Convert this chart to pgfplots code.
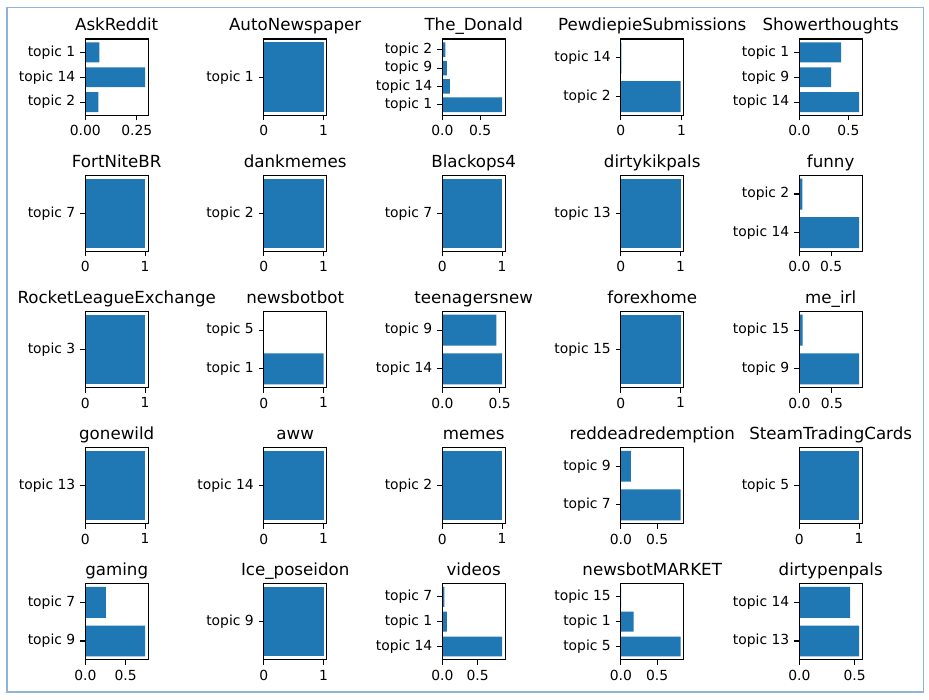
\documentclass[border=0pt]{standalone}
\usepackage{fontspec}
\setmainfont{DejaVu Sans}
\usepackage{pgfplots}
\pgfplotsset{compat=1.18}
\definecolor{c0}{HTML}{1F77B4}
\definecolor{frame}{RGB}{143,180,220}
\pgfplotsset{
  sub/.style={xbar, scale only axis, width=45.2pt, height=55.1pt, anchor=north west,
    xmin=0, axis on top, tick align=outside, xtick pos=bottom, ytick pos=left,
    major tick length=3.5pt,
    axis line style={line width=0.8pt,black},
    tick style={black,line width=0.8pt},
    xtick style={black,line width=0.8pt},
    ytick style={black,line width=0.8pt},
    tick label style={font=\fontsize{10}{12}\selectfont},
    yticklabel style={inner sep=0pt, anchor=east, xshift=-3.5pt},
    xticklabel style={inner sep=0pt, anchor=north, yshift=-3.5pt},
    /pgf/number format/assume math mode=true,
    every axis title shift=0pt,
    title style={font=\fontsize{12}{14}\selectfont, at={(0.5,1)}, anchor=base, yshift=5.8pt, inner sep=0pt},
    bar width=0.8, bar shift=0pt},
  n1/.style={ymin=-0.44,ymax=0.44,ytick={0}},
  n2/.style={ymin=-0.49,ymax=1.49,ytick={0,1}},
  n3/.style={ymin=-0.54,ymax=2.54,ytick={0,1,2}},
  n4/.style={ymin=-0.59,ymax=3.59,ytick={0,1,2,3}},
  one/.style={xmax=1.05,xtick={0,1},xticklabels={0,1}},
  half/.style={xtick={0,0.5},xticklabels={0.0,0.5}},
}
\newcommand{\sub}[4]{%
  \begin{axis}[sub, at={({(85.3+178.5*#1)*0.72pt},{-(39+136.1*#2)*0.72pt})}, #3]
  \addplot[fill=c0, draw=none] coordinates {#4};
  \end{axis}}
\begin{document}
\begin{tikzpicture}
\useasboundingbox (0,0) rectangle (929*0.72pt,-699*0.72pt);
\draw[frame, line width=1.2pt] (7*0.72pt,-7.5*0.72pt) rectangle (923.5*0.72pt,-692*0.72pt);
% row 0
\sub{0}{0}{title={AskReddit}, n3, yticklabels={topic 2,topic 14,topic 1}, xmax=0.3045, xtick={0,0.25}, xticklabels={0.00,0.25}}{(0.064,0) (0.29,1) (0.068,2)}
\sub{1}{0}{title={AutoNewspaper}, n1, yticklabels={topic 1}, one}{(1,0)}
\sub{2}{0}{title={The\_Donald}, n4, yticklabels={topic 1,topic 14,topic 9,topic 2}, xmax=0.8295, half}{(0.79,0) (0.10,1) (0.062,2) (0.04,3)}
\sub{3}{0}{title={PewdiepieSubmissions}, n2, yticklabels={topic 2,topic 14}, xmax=1.034, xtick={0,1}, xticklabels={0,1}}{(0.985,0) (0.008,1)}
\sub{4}{0}{title={Showerthoughts}, n3, yticklabels={topic 14,topic 9,topic 1}, xmax=0.6405, half}{(0.61,0) (0.325,1) (0.426,2)}
% row 1
\sub{0}{1}{title={FortNiteBR}, n1, yticklabels={topic 7}, one}{(1,0)}
\sub{1}{1}{title={dankmemes}, n1, yticklabels={topic 2}, one}{(1,0)}
\sub{2}{1}{title={Blackops4}, n1, yticklabels={topic 7}, one}{(1,0)}
\sub{3}{1}{title={dirtykikpals}, n1, yticklabels={topic 13}, one}{(1,0)}
\sub{4}{1}{title={funny}, n2, yticklabels={topic 14,topic 2}, xmax=0.987, half}{(0.94,0) (0.05,1)}
% row 2
\sub{0}{2}{title={RocketLeagueExchange}, n1, yticklabels={topic 3}, one}{(1,0)}
\sub{1}{2}{title={newsbotbot}, n2, yticklabels={topic 1,topic 5}, one}{(1,0) (0.002,1)}
\sub{2}{2}{title={teenagersnew}, n2, yticklabels={topic 14,topic 9}, xmax=0.546, half}{(0.52,0) (0.47,1)}
\sub{3}{2}{title={forexhome}, n1, yticklabels={topic 15}, one}{(1,0)}
\sub{4}{2}{title={me\_irl}, n2, yticklabels={topic 9,topic 15}, xmax=0.966, half}{(0.92,0) (0.05,1)}
% row 3
\sub{0}{3}{title={gonewild}, n1, yticklabels={topic 13}, one}{(1,0)}
\sub{1}{3}{title={aww}, n1, yticklabels={topic 14}, one}{(1,0)}
\sub{2}{3}{title={memes}, n1, yticklabels={topic 2}, one}{(1,0)}
\sub{3}{3}{title={reddeadredemption}, n2, yticklabels={topic 7,topic 9}, xmax=0.866, half}{(0.825,0) (0.14,1)}
\sub{4}{3}{title={SteamTradingCards}, n1, yticklabels={topic 5}, one}{(1,0)}
% row 4
\sub{0}{4}{title={gaming}, n2, yticklabels={topic 9,topic 7}, xmax=0.777, half}{(0.74,0) (0.256,1)}
\sub{1}{4}{title={Ice\_poseidon}, n1, yticklabels={topic 9}, one}{(1,0)}
\sub{2}{4}{title={videos}, n3, yticklabels={topic 14,topic 1,topic 7}, xmax=0.887, half}{(0.845,0) (0.066,1) (0.03,2)}
\sub{3}{4}{title={newsbotMARKET}, n3, yticklabels={topic 5,topic 1,topic 15}, xmax=0.866, half}{(0.825,0) (0.176,1) (0.003,2)}
\sub{4}{4}{title={dirtypenpals}, n2, yticklabels={topic 13,topic 14}, xmax=0.567, half}{(0.54,0) (0.46,1)}
\end{tikzpicture}
\end{document}
